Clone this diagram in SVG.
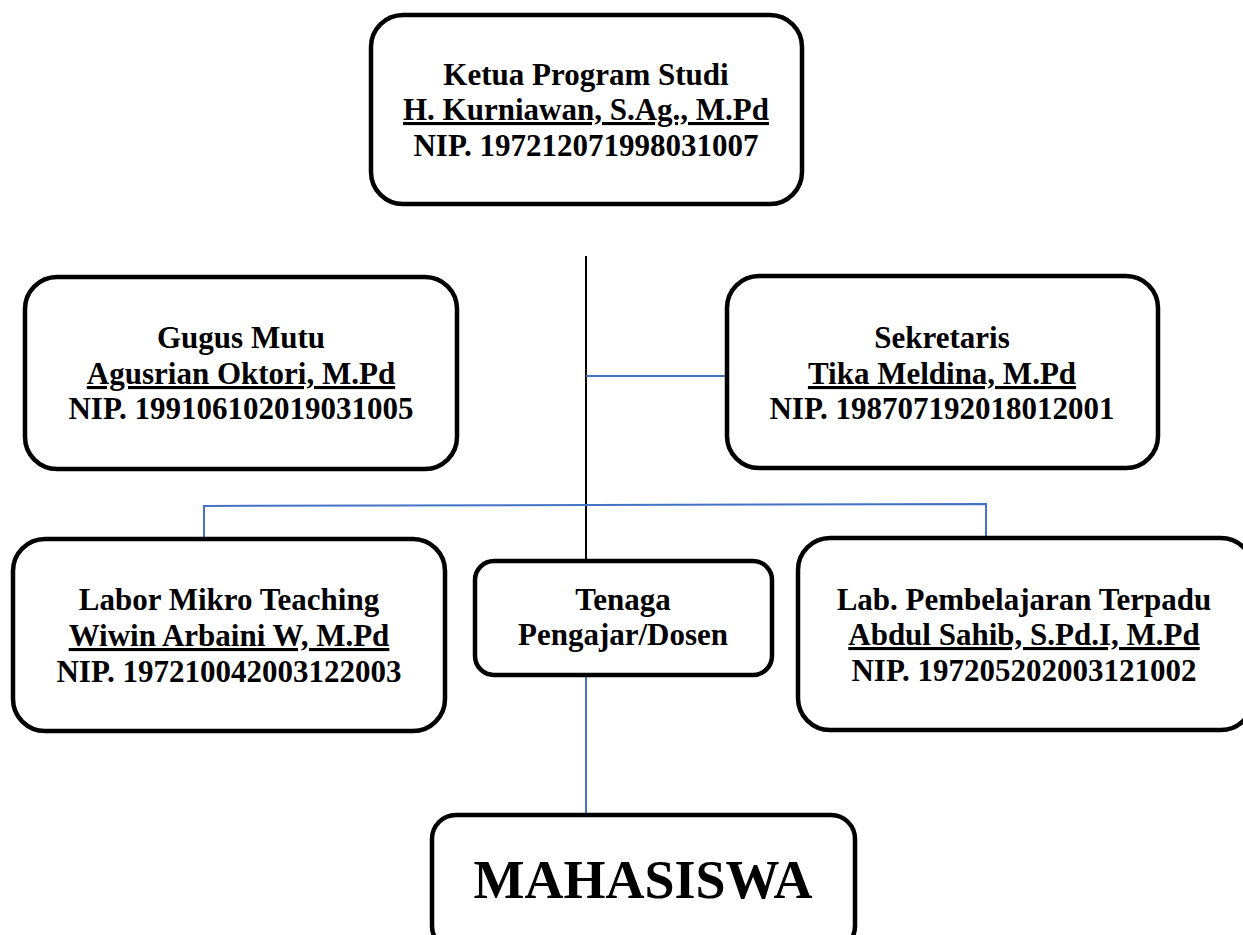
<svg xmlns="http://www.w3.org/2000/svg" width="1243" height="935" viewBox="0 0 1243 935">
<style>
.box{fill:#fff;stroke:#000;stroke-width:4.5}
.t{font-family:"Liberation Serif","Times New Roman",serif;font-weight:bold;font-size:31px;fill:#000;text-anchor:middle}
.u{text-decoration:underline}
.big{font-size:54px}
.blue{stroke:#4472C4;stroke-width:2;fill:none}
.blk{stroke:#000;stroke-width:2;fill:none}
</style>
<rect width="1243" height="935" fill="#fff"/>
<g id="connectors">
<line class="blk" x1="586" y1="256" x2="586" y2="561"/>
<line class="blue" x1="586" y1="376" x2="727" y2="376"/>
<polyline class="blue" points="204,539 204,506 986,504 986,538"/>
<line class="blue" x1="586" y1="675" x2="586" y2="815"/>
</g>
<g id="ketua">
<rect class="box" x="371" y="15" width="431" height="189" rx="32"/>
<text class="t" x="586" y="85">Ketua Program Studi</text>
<text class="t u" x="586" y="120">H. Kurniawan, S.Ag., M.Pd</text>
<text class="t" x="586" y="156">NIP. 197212071998031007</text>
</g>
<g id="gugus">
<rect class="box" x="25" y="277" width="432" height="192" rx="32"/>
<text class="t" x="241" y="348">Gugus Mutu</text>
<text class="t u" x="241" y="384">Agusrian Oktori, M.Pd</text>
<text class="t" x="241" y="419">NIP. 199106102019031005</text>
</g>
<g id="sekretaris">
<rect class="box" x="727" y="276" width="431" height="192" rx="32"/>
<text class="t" x="942" y="348">Sekretaris</text>
<text class="t u" x="942" y="384">Tika Meldina, M.Pd</text>
<text class="t" x="942" y="419">NIP. 198707192018012001</text>
</g>
<g id="labor">
<rect class="box" x="13" y="539" width="432" height="192" rx="32"/>
<text class="t" x="229" y="610">Labor Mikro Teaching</text>
<text class="t u" x="229" y="646">Wiwin Arbaini W, M.Pd</text>
<text class="t" x="229" y="682">NIP. 197210042003122003</text>
</g>
<g id="tenaga">
<rect class="box" x="475" y="561" width="297" height="114" rx="19"/>
<text class="t" x="623" y="610">Tenaga</text>
<text class="t" x="623" y="645">Pengajar/Dosen</text>
</g>
<g id="lab">
<rect class="box" x="798" y="538" width="455" height="192" rx="32"/>
<text class="t" x="1024" y="610">Lab. Pembelajaran Terpadu</text>
<text class="t u" x="1024" y="645">Abdul Sahib, S.Pd.I, M.Pd</text>
<text class="t" x="1024" y="681">NIP. 197205202003121002</text>
</g>
<g id="mahasiswa">
<rect class="box" x="432" y="815" width="423" height="135" rx="24"/>
<text class="t big" x="643" y="898">MAHASISWA</text>
</g>
</svg>
